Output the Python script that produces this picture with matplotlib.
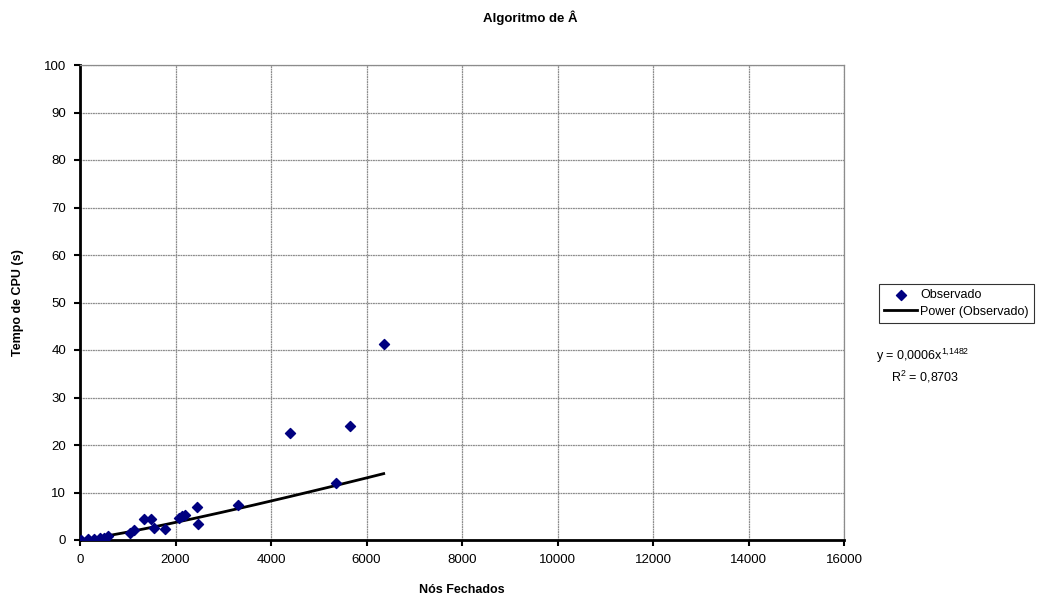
import numpy as np
import matplotlib.pyplot as plt

plt.rcParams['font.family'] = ['Liberation Sans', 'DejaVu Sans']
plt.rcParams['mathtext.default'] = 'regular'

# observed points (closed nodes, CPU time in s)
nos = [20, 160, 300, 410, 510, 580, 1050, 1140, 1350, 1490, 1560, 1790,
       2080, 2140, 2190, 2450, 2470, 3300, 4390, 5370, 5660, 6360]
tempo = [0.0, 0.15, 0.15, 0.5, 0.5, 0.85, 1.55, 2.1, 4.45, 4.45, 2.5, 2.3,
         4.6, 5.0, 5.3, 6.9, 3.4, 7.4, 22.6, 12.0, 24.1, 41.2]

# power trendline shown on the chart
coef_a = 0.0006
coef_b = 1.1482

fig = plt.figure(figsize=(10.52, 6.05), dpi=100)
ax = fig.add_axes([80 / 1052, 65 / 605, 764 / 1052, 475 / 605])

xf = np.linspace(0, max(nos), 200)
ax.scatter(nos, tempo, marker='D', s=26, color='#000080', zorder=3, label='Observado')
ax.plot(xf, coef_a * xf ** coef_b, color='black', lw=2, zorder=2, label='Power (Observado)')

ax.set_xlim(0, 16000)
ax.set_ylim(0, 100)
ax.set_xticks(np.arange(0, 16001, 2000))
ax.set_yticks(np.arange(0, 101, 10))
ax.grid(True, color='#8c8c8c', lw=0.9, ls=(0, (1.5, 0.5)))
ax.set_axisbelow(True)
for s in ['top', 'right']:
    ax.spines[s].set_color('#8c8c8c')
    ax.spines[s].set_linewidth(0.9)
for s in ['left', 'bottom']:
    ax.spines[s].set_linewidth(2)
ax.tick_params(labelsize=9.5, length=4, width=1.5, pad=6)

fig.text(530 / 1052, 1 - 18 / 605, 'Algoritmo de Â', fontsize=9.5,
         fontweight='bold', ha='center', va='center')
fig.text(462 / 1052, 1 - 590 / 605, 'Nós Fechados', fontsize=9,
         fontweight='bold', ha='center', va='center')
fig.text(18 / 1052, 1 - 303 / 605, 'Tempo de CPU (s)', fontsize=9,
         fontweight='bold', ha='center', va='center', rotation=90)

leg = ax.legend(loc='upper left', bbox_to_anchor=(873 / 1052, 1 - 278 / 605),
                bbox_transform=fig.transFigure, fontsize=9, frameon=True,
                fancybox=False, edgecolor='black', handlelength=2.6,
                borderpad=0.4, labelspacing=0.35, handletextpad=0.3)
leg.get_frame().set_linewidth(0.8)

fig.text(876 / 1052, 1 - 356 / 605, 'y = 0,0006x$^{1{,}1482}$', fontsize=9, va='center')
fig.text(891 / 1052, 1 - 377 / 605, 'R$^{2}$ = 0,8703', fontsize=9, va='center')

fig.savefig('out.png', dpi=100)
